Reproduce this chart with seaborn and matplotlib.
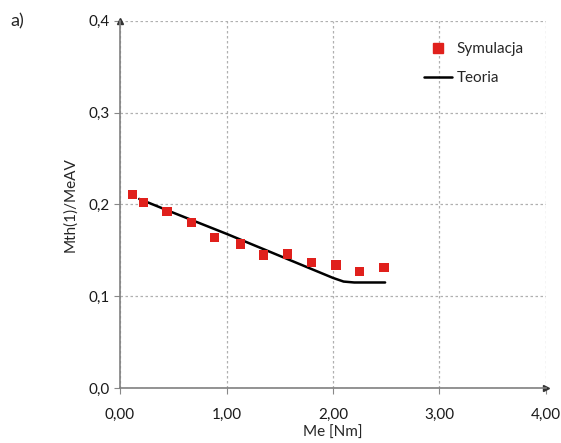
import pandas as pd
import seaborn as sns
import matplotlib.pyplot as plt
from matplotlib.lines import Line2D

# Dane
sym_me = [0.115, 0.22, 0.44, 0.67, 0.89, 1.13, 1.35, 1.57, 1.80, 2.03, 2.25, 2.48]
sym_val = [0.211, 0.202, 0.192, 0.180, 0.164, 0.157, 0.145, 0.146, 0.137, 0.134, 0.127, 0.131]

teo_me = [0.18, 0.5, 1.0, 1.5, 2.0, 2.1, 2.2, 2.49]
teo_val = [0.206, 0.191, 0.168, 0.144, 0.120, 0.116, 0.115, 0.115]

x_ticks = [0, 1, 2, 3, 4]
x_labels = ['0,00', '1,00', '2,00', '3,00', '4,00']
y_ticks = [0.0, 0.1, 0.2, 0.3, 0.4]
y_labels = ['0,0', '0,1', '0,2', '0,3', '0,4']

sym_df = pd.DataFrame({'Me': sym_me, 'val': sym_val})
teo_df = pd.DataFrame({'Me': teo_me, 'val': teo_val})

sns.set_style('white')
plt.rcParams['font.family'] = ['Lato', 'DejaVu Sans']

fig = plt.figure(figsize=(5.61, 4.43), dpi=100)
ax = fig.add_axes([0.214, 0.124, 0.759, 0.829])

sns.lineplot(data=teo_df, x='Me', y='val', color='black', linewidth=1.8, ax=ax, zorder=3)
sns.scatterplot(data=sym_df, x='Me', y='val', marker='s', s=45, color='#e0201c',
                edgecolor='none', ax=ax, zorder=4)

ax.set_xlim(0, 4)
ax.set_ylim(0, 0.4)
ax.set_xticks(x_ticks)
ax.set_xticklabels(x_labels)
ax.set_yticks(y_ticks)
ax.set_yticklabels(y_labels)
ax.tick_params(labelsize=11, colors='#1a1a1a', length=4, color='#888888', direction='out',
               bottom=True, left=True)
ax.tick_params(axis='x', pad=10)

ax.grid(True, linestyle=(0, (2, 2)), color='#b0b0b0', linewidth=0.9)
for s in ['top', 'right']:
    ax.spines[s].set_visible(False)
for s in ['left', 'bottom']:
    ax.spines[s].set_color('#808080')
    ax.spines[s].set_linewidth(1.2)

# strzałki na osiach
ax.plot(1, 0, '>', color='#333333', markersize=5, transform=ax.transAxes, clip_on=False)
ax.plot(0, 1, '^', color='#333333', markersize=5, transform=ax.transAxes, clip_on=False)

ax.set_xlabel('Me [Nm]', fontsize=11, labelpad=3)
ax.set_ylabel('Mth(1)/MeAV', fontsize=11, labelpad=8)

handles = [
    Line2D([], [], marker='s', color='#e0201c', linestyle='none', markersize=7),
    Line2D([], [], color='black', linewidth=1.8),
]
ax.legend(handles, ['Symulacja', 'Teoria'], loc='upper right', bbox_to_anchor=(0.98, 0.98),
          frameon=False, fontsize=11, handlelength=1.8, labelspacing=1.0, handletextpad=0.3)

fig.text(0.018, 0.94, 'a)', fontsize=13)

fig.savefig('out.png', dpi=100)
